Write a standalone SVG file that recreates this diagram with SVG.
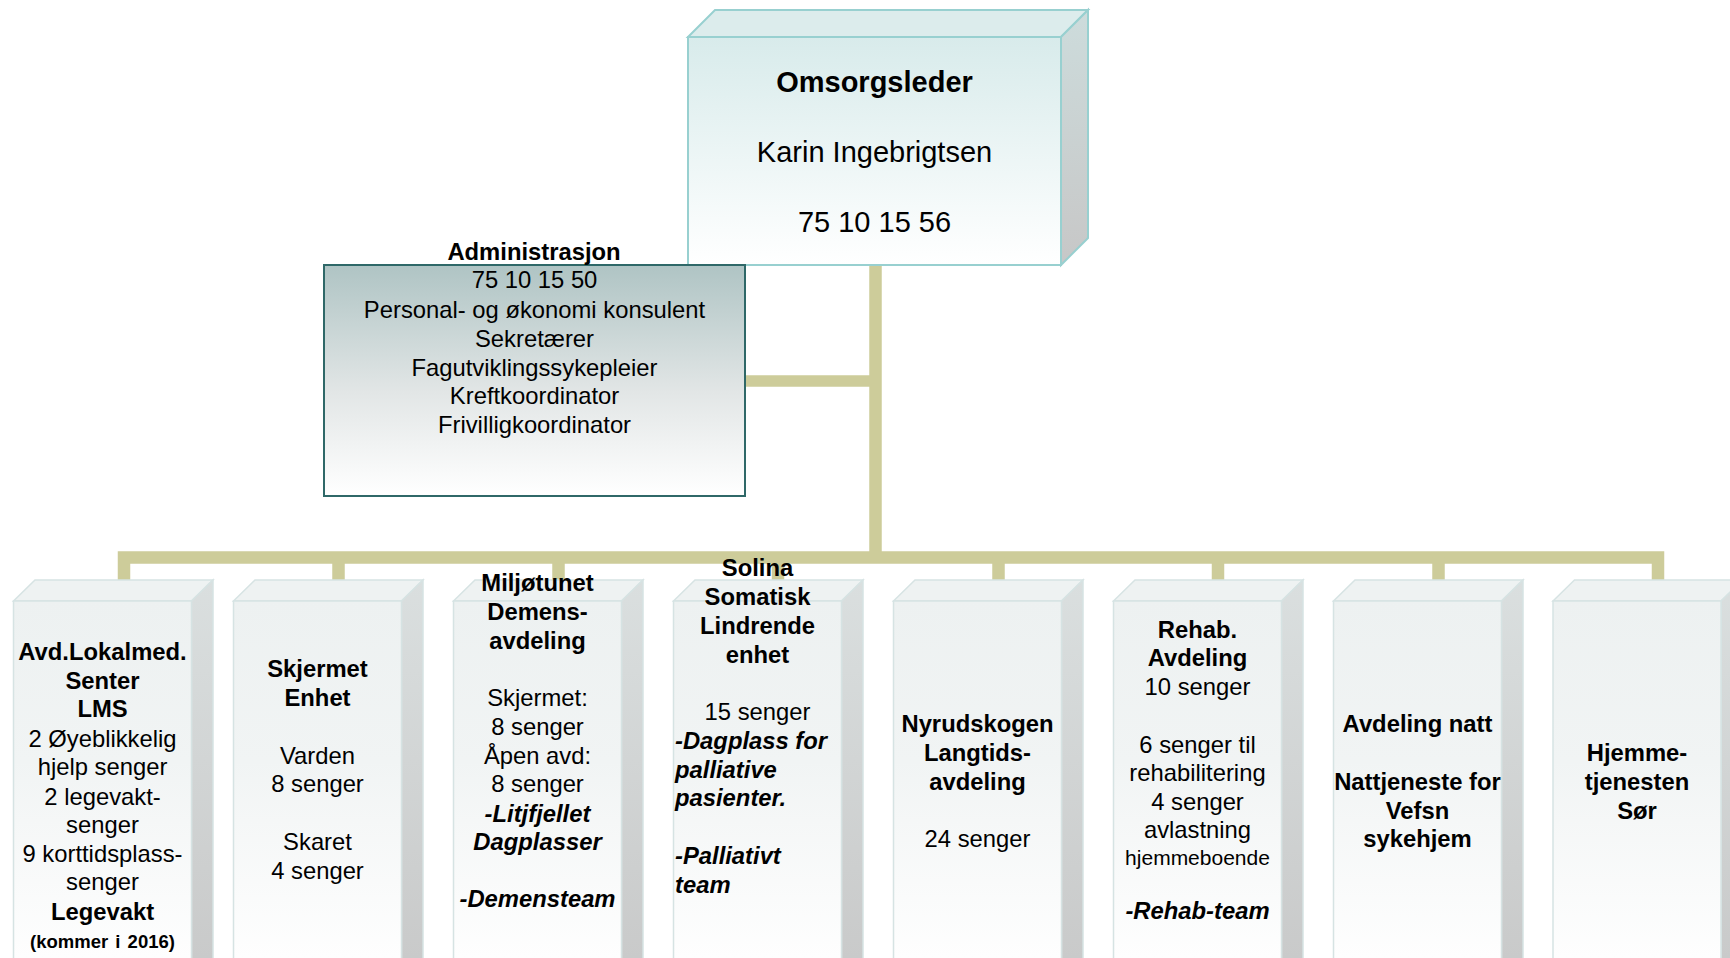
<svg xmlns="http://www.w3.org/2000/svg" width="1730" height="958" viewBox="0 0 1730 958">
<defs>
<linearGradient id="gColFront" gradientUnits="userSpaceOnUse" x1="0" y1="601" x2="0" y2="958">
<stop offset="0" stop-color="#edf1f1"/><stop offset="0.45" stop-color="#f1f4f4"/><stop offset="1" stop-color="#fefefe"/>
</linearGradient>
<linearGradient id="gColSide" gradientUnits="userSpaceOnUse" x1="0" y1="580" x2="0" y2="958">
<stop offset="0" stop-color="#dadfdf"/><stop offset="1" stop-color="#c9caca"/>
</linearGradient>
<linearGradient id="gTopFront" x1="0" y1="0" x2="0" y2="1">
<stop offset="0" stop-color="#d8ebeb"/><stop offset="1" stop-color="#ffffff"/>
</linearGradient>
<linearGradient id="gTopSide" x1="0" y1="0" x2="0" y2="1">
<stop offset="0" stop-color="#cddcdc"/><stop offset="1" stop-color="#c7c7c7"/>
</linearGradient>
<linearGradient id="gAdmin" x1="0" y1="0" x2="0" y2="1">
<stop offset="0" stop-color="#afc4c4"/><stop offset="0.55" stop-color="#e2e6e6"/><stop offset="1" stop-color="#ffffff"/>
</linearGradient>
</defs>
<style>
text{font-family:"Liberation Sans",Arial,sans-serif;fill:#000;text-anchor:middle}
.t24{font-size:23.8px}
.b{font-weight:bold}
.bi{font-weight:bold;font-style:italic}
.l{text-anchor:start}
.colFront{fill:url(#gColFront);stroke:#d6e3e3;stroke-width:1.5}
.colTop{fill:#eef2f2;stroke:#d6e3e3;stroke-width:1.5}
.colSide{fill:url(#gColSide);stroke:#d6e3e3;stroke-width:1.5}
.conn{stroke:#cdcc9a;fill:none;stroke-width:12.5;stroke-linejoin:miter;stroke-linecap:butt}
</style>
<rect width="1730" height="958" fill="#ffffff"/>

<g id="connectors">
<line class="conn" x1="875.5" y1="262" x2="875.5" y2="557.5"/>
<line class="conn" x1="742" y1="381" x2="875.5" y2="381" style="stroke-width:11.5"/>
<path class="conn" d="M124,583 V557.5 H1658 V583"/>
<line class="conn" x1="338.5" y1="557.5" x2="338.5" y2="583"/>
<line class="conn" x1="558.5" y1="557.5" x2="558.5" y2="583"/>
<line class="conn" x1="778" y1="557.5" x2="778" y2="583"/>
<line class="conn" x1="998.5" y1="557.5" x2="998.5" y2="583"/>
<line class="conn" x1="1218" y1="557.5" x2="1218" y2="583"/>
<line class="conn" x1="1438.5" y1="557.5" x2="1438.5" y2="583"/>
</g>

<g id="omsorgsleder">
<polygon points="688,37 715,10 1088,10 1061,37" fill="#dcecec" stroke="#98d0d0" stroke-width="2"/>
<polygon points="1061,37 1088,10 1088,238 1061,265" fill="url(#gTopSide)" stroke="#98d0d0" stroke-width="2"/>
<rect x="688" y="37" width="373" height="228" fill="url(#gTopFront)" stroke="#98d0d0" stroke-width="2"/>
<text x="874.5" y="92" class="b" style="font-size:29px">Omsorgsleder</text>
<text x="874.5" y="162" style="font-size:29px">Karin Ingebrigtsen</text>
<text x="874.5" y="232" style="font-size:29px">75 10 15 56</text>
</g>

<g id="administrasjon">
<rect x="324" y="265" width="421" height="231" fill="url(#gAdmin)" stroke="#2f6868" stroke-width="2"/>
<text x="534" y="259.5" class="b" style="font-size:23.8px">Administrasjon</text>
<g style="font-size:23.8px">
<text x="534.5" y="288">75 10 15 50</text>
<text x="534.5" y="317.5">Personal- og økonomi konsulent</text>
<text x="534.5" y="346.5">Sekretærer</text>
<text x="534.5" y="375.5">Fagutviklingssykepleier</text>
<text x="534.5" y="404">Kreftkoordinator</text>
<text x="534.5" y="433">Frivilligkoordinator</text>
</g>
</g>

<g id="lms">
<polygon class="colTop" points="13.5,601 35,580 213,580 191.5,601"/>
<polygon class="colSide" points="191.5,601 213,580 213,975 191.5,975"/>
<rect class="colFront" x="13.5" y="601" width="178" height="374"/>
<g class="t24">
<text x="102.5" y="660" class="b">Avd.Lokalmed.</text>
<text x="102.5" y="688.5" class="b">Senter</text>
<text x="102.5" y="717" class="b">LMS</text>
<text x="102.5" y="746.5">2 Øyeblikkelig</text>
<text x="102.5" y="775">hjelp senger</text>
<text x="102.5" y="804.5">2 legevakt-</text>
<text x="102.5" y="833">senger</text>
<text x="102.5" y="861.5">9 korttidsplass-</text>
<text x="102.5" y="890">senger</text>
<text x="102.5" y="919.5" class="b">Legevakt</text>
<text x="102.5" y="948" class="b" style="font-size:18.5px;word-spacing:2px">(kommer i 2016)</text>
</g>
</g>

<g id="skjermet">
<polygon class="colTop" points="233.5,601 255,580 423,580 401.5,601"/>
<polygon class="colSide" points="401.5,601 423,580 423,975 401.5,975"/>
<rect class="colFront" x="233.5" y="601" width="168" height="374"/>
<g class="t24">
<text x="317.5" y="676.5" class="b">Skjermet</text>
<text x="317.5" y="705.5" class="b">Enhet</text>
<text x="317.5" y="763.5">Varden</text>
<text x="317.5" y="792">8 senger</text>
<text x="317.5" y="850">Skaret</text>
<text x="317.5" y="878.5">4 senger</text>
</g>
</g>

<g id="miljotunet">
<polygon class="colTop" points="453.5,601 475,580 643,580 621.5,601"/>
<polygon class="colSide" points="621.5,601 643,580 643,975 621.5,975"/>
<rect class="colFront" x="453.5" y="601" width="168" height="374"/>
<g class="t24">
<text x="537.5" y="590.5" class="b">Miljøtunet</text>
<text x="537.5" y="619.5" class="b">Demens-</text>
<text x="537.5" y="648.5" class="b">avdeling</text>
<text x="537.5" y="706">Skjermet:</text>
<text x="537.5" y="734.5">8 senger</text>
<text x="537.5" y="763.5">Åpen avd:</text>
<text x="537.5" y="792">8 senger</text>
<text x="537.5" y="821.5" class="bi">-Litjfjellet</text>
<text x="537.5" y="849.5" class="bi">Dagplasser</text>
<text x="537.5" y="907" class="bi">-Demensteam</text>
</g>
</g>

<g id="solina">
<polygon class="colTop" points="673.5,601 695,580 863,580 841.5,601"/>
<polygon class="colSide" points="841.5,601 863,580 863,975 841.5,975"/>
<rect class="colFront" x="673.5" y="601" width="168" height="374"/>
<g class="t24">
<text x="757.5" y="576" class="b">Solina</text>
<text x="757.5" y="605" class="b">Somatisk</text>
<text x="757.5" y="633.5" class="b">Lindrende</text>
<text x="757.5" y="662.5" class="b">enhet</text>
<text x="757.5" y="720">15 senger</text>
<text x="675" y="748.5" class="bi l">-Dagplass for</text>
<text x="675" y="777.5" class="bi l">palliative</text>
<text x="675" y="806" class="bi l">pasienter.</text>
<text x="675" y="864" class="bi l">-Palliativt</text>
<text x="675" y="893" class="bi l">team</text>
</g>
</g>

<g id="nyrudskogen">
<polygon class="colTop" points="893.5,601 915,580 1083,580 1061.5,601"/>
<polygon class="colSide" points="1061.5,601 1083,580 1083,975 1061.5,975"/>
<rect class="colFront" x="893.5" y="601" width="168" height="374"/>
<g class="t24">
<text x="977.5" y="731.5" class="b">Nyrudskogen</text>
<text x="977.5" y="760.5" class="b">Langtids-</text>
<text x="977.5" y="789.5" class="b">avdeling</text>
<text x="977.5" y="847">24 senger</text>
</g>
</g>

<g id="rehab">
<polygon class="colTop" points="1113.5,601 1135,580 1303,580 1281.5,601"/>
<polygon class="colSide" points="1281.5,601 1303,580 1303,975 1281.5,975"/>
<rect class="colFront" x="1113.5" y="601" width="168" height="374"/>
<g class="t24">
<text x="1197.5" y="637.5" class="b">Rehab.</text>
<text x="1197.5" y="666" class="b">Avdeling</text>
<text x="1197.5" y="695">10 senger</text>
<text x="1197.5" y="752.5">6 senger til</text>
<text x="1197.5" y="781">rehabilitering</text>
<text x="1197.5" y="810">4 senger</text>
<text x="1197.5" y="838">avlastning</text>
<text x="1197.5" y="865" style="font-size:21px">hjemmeboende</text>
<text x="1197.5" y="918.5" class="bi">-Rehab-team</text>
</g>
</g>

<g id="natt">
<polygon class="colTop" points="1333.5,601 1355,580 1523,580 1501.5,601"/>
<polygon class="colSide" points="1501.5,601 1523,580 1523,975 1501.5,975"/>
<rect class="colFront" x="1333.5" y="601" width="168" height="374"/>
<g class="t24">
<text x="1417.5" y="731.5" class="b">Avdeling natt</text>
<text x="1417.5" y="789.5" class="b">Nattjeneste for</text>
<text x="1417.5" y="818.5" class="b">Vefsn</text>
<text x="1417.5" y="846.5" class="b">sykehjem</text>
</g>
</g>

<g id="hjemmetjenesten">
<polygon class="colTop" points="1553,601 1574.5,580 1742.5,580 1721,601"/>
<polygon class="colSide" points="1721,601 1742.5,580 1742.5,975 1721,975"/>
<rect class="colFront" x="1553" y="601" width="168" height="374"/>
<g class="t24">
<text x="1637" y="760.5" class="b">Hjemme-</text>
<text x="1637" y="790" class="b">tjenesten</text>
<text x="1637" y="818.5" class="b">Sør</text>
</g>
</g>
</svg>
